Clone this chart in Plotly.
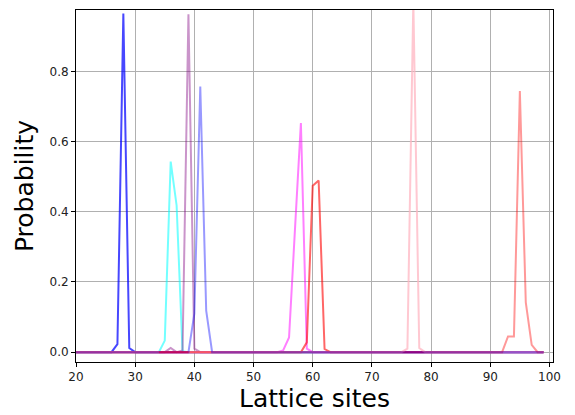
import plotly.graph_objects as go

# Lattice sites 0..99; each wavepacket is zero except on the listed sites.
sites = list(range(100))

blue_sites = [27, 28, 29]
blue_vals = [0.023, 0.965, 0.012]

cyan_sites = [35, 36, 37, 38]
cyan_vals = [0.033, 0.543, 0.418, 0.003]

mauve_sites = [36, 38, 39, 40]
mauve_vals = [0.012, 0.005, 0.963, 0.010]

crimson_sites = [34, 35, 36, 37, 38, 39]
crimson_vals = [0.0, 0.0, 0.0, 0.0, 0.0, 0.0]

slate_sites = [40, 41, 42]
slate_vals = [0.110, 0.757, 0.118]

magenta_sites = [55, 56, 57, 58, 59]
magenta_vals = [0.005, 0.042, 0.350, 0.653, 0.010]

red_sites = [59, 60, 61, 62]
red_vals = [0.028, 0.474, 0.489, 0.009]

pink_sites = [76, 77, 78]
pink_vals = [0.010, 1.000, 0.012]

salmon_sites = [93, 94, 95, 96, 97]
salmon_vals = [0.045, 0.045, 0.744, 0.142, 0.021]


def full_profile(idx, vals):
    prof = [0.0] * len(sites)
    for i, v in zip(idx, vals):
        prof[i] = v
    return prof


series = [
    (full_profile(blue_sites, blue_vals), "rgba(0,0,255,0.72)"),
    (full_profile(cyan_sites, cyan_vals), "rgba(0,255,255,0.55)"),
    (full_profile(mauve_sites, mauve_vals), "rgba(128,0,128,0.42)"),
    (full_profile(magenta_sites, magenta_vals), "rgba(255,0,255,0.5)"),
    (full_profile(red_sites, red_vals), "rgba(255,0,0,0.6)"),
    (full_profile(pink_sites, pink_vals), "rgba(255,182,193,0.75)"),
    (full_profile(salmon_sites, salmon_vals), "rgba(255,0,0,0.4)"),
    (full_profile(slate_sites, slate_vals), "rgba(0,0,255,0.4)"),
]

fig = go.Figure()
for prof, col in series:
    fig.add_trace(go.Scatter(x=sites, y=prof, mode="lines",
                             line=dict(color=col, width=2), showlegend=False))

fig.add_trace(go.Scatter(x=crimson_sites, y=crimson_vals, mode="lines",
                         line=dict(color="rgba(200,0,80,0.8)", width=2),
                         showlegend=False))

axis_common = dict(
    showline=True, linecolor="black", linewidth=1, mirror=True,
    ticks="outside", ticklen=4, tickcolor="black", tickwidth=1,
    showgrid=True, gridcolor="#b0b0b0", gridwidth=1,
    zeroline=False,
    tickfont=dict(family="DejaVu Sans", size=12, color="#222"),
)

fig.update_layout(
    width=575, height=415,
    margin=dict(l=76, r=22, t=9, b=52),
    paper_bgcolor="white", plot_bgcolor="white",
    font=dict(family="DejaVu Sans", color="black"),
    xaxis=dict(range=[20, 100.6], tickmode="array",
               tickvals=[20, 30, 40, 50, 60, 70, 80, 90, 100],
               title=dict(text="Lattice sites", font=dict(size=25), standoff=4),
               **axis_common),
    yaxis=dict(range=[-0.028, 0.975], tickmode="array",
               tickvals=[0.0, 0.2, 0.4, 0.6, 0.8], tickformat=".1f",
               title=dict(text="Probability", font=dict(size=25), standoff=8),
               **axis_common),
)

fig.write_html("out.html")
